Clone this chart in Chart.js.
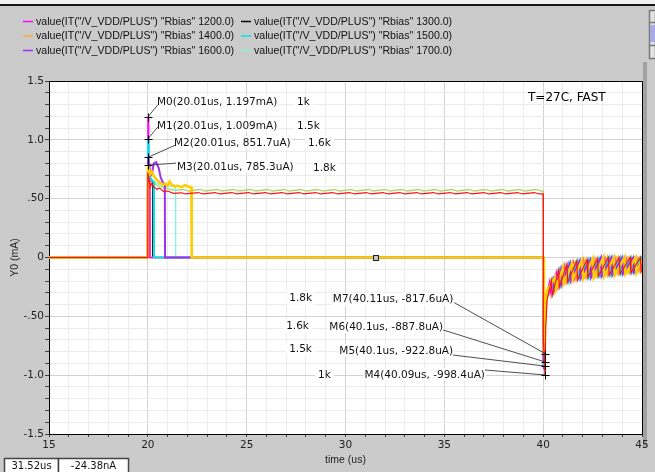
<!DOCTYPE html>
<html>
    <head>
        <meta charset="utf-8">
        <style>
            html, body { margin: 0; padding: 0; background: #cbcbcb; }
            canvas { display: block; }
        </style>
    </head>
    <body>

	<canvas id="myChart" width="655" height="472"></canvas>

        <script src="https://cdn.jsdelivr.net/npm/chart.js"></script>

        <script>
		// each series: [time (us), current (mA)]
		const rb1000 = [[15,0],[19.98,0],[20.0,0.72],[20.06,0.66],[20.12,0.6],[20.2,0.63],[20.3,0.6],[20.45,0.58],[20.6,0.59],[20.8,0.56],[21.0,0.565],[21.3,0.545],
			[21.7,0.55],[21.9,0.54],[22.55,0.552],[22.8,0.54],[23.4,0.552],[23.65,0.54],[24.25,0.552],[24.5,0.54],[25.1,0.552],[25.35,0.54],[25.95,0.552],[26.2,0.54],
			[26.8,0.552],[27.05,0.54],[27.65,0.552],[27.9,0.54],[28.5,0.552],[28.75,0.54],[29.35,0.552],[29.6,0.54],[30.2,0.552],[30.45,0.54],[31.05,0.552],[31.3,0.54],
			[31.9,0.552],[32.15,0.54],[32.75,0.552],[33.0,0.54],[33.6,0.552],[33.85,0.54],[34.45,0.552],[34.7,0.54],[35.3,0.552],[35.55,0.54],[36.15,0.552],[36.4,0.54],
			[37.0,0.552],[37.25,0.54],[37.85,0.552],[38.1,0.54],[38.7,0.552],[38.95,0.54],[39.55,0.552],[39.8,0.54],[40.0,0.54],
			[40.01,-0.7],[40.09,-0.998],[40.13,-0.6],[40.2,-0.36],[40.42,-0.2],[40.46,-0.32],[40.78,-0.11],[40.82,-0.25],[41.2,-0.06],[41.24,-0.21],[41.7,-0.03],[41.74,-0.19],
			[42.22,-0.02],[42.26,-0.17],[42.75,-0.01],[42.79,-0.16],[43.3,0],[43.34,-0.15],[43.85,0],[43.89,-0.14],[44.4,0],[44.44,-0.13],[44.92,0],[44.96,-0.12],[45,-0.1]];
		const rb1100 = [[15,0],[19.98,0],[20.01,0.7],[20.08,0.69],[20.2,0.65],[20.35,0.63],[20.5,0.61],[20.7,0.6],[20.9,0.59],[21.1,0.58],[21.4,0.57],
			[21.8,0.578],[22.05,0.565],[22.65,0.578],[22.9,0.565],[23.5,0.578],[23.75,0.565],[24.35,0.578],[24.6,0.565],[25.2,0.578],[25.45,0.565],[26.05,0.578],[26.3,0.565],
			[26.9,0.578],[27.15,0.565],[27.75,0.578],[28.0,0.565],[28.6,0.578],[28.85,0.565],[29.45,0.578],[29.7,0.565],[30.3,0.578],[30.55,0.565],[31.15,0.578],[31.4,0.565],
			[32.0,0.578],[32.25,0.565],[32.85,0.578],[33.1,0.565],[33.7,0.578],[33.95,0.565],[34.55,0.578],[34.8,0.565],[35.4,0.578],[35.65,0.565],[36.25,0.578],[36.5,0.565],
			[37.1,0.578],[37.35,0.565],[37.95,0.578],[38.2,0.565],[38.8,0.578],[39.05,0.565],[39.65,0.578],[39.9,0.565],[40.0,0.565],
			[40.01,-0.6],[40.05,-0.96],[40.1,-0.55],[40.17,-0.34],[40.36,-0.2],[40.4,-0.31],[40.7,-0.12],[40.74,-0.25],[41.1,-0.07],[41.14,-0.21],[41.6,-0.04],[41.64,-0.19],
			[42.1,-0.02],[42.14,-0.17],[42.62,-0.01],[42.66,-0.16],[43.15,0],[43.19,-0.15],[43.7,0],[43.74,-0.14],[44.25,0],[44.29,-0.13],[44.8,0],[44.84,-0.12],[45,-0.08]];
		const rb1200 = [[15,0],[19.99,0],[20.01,1.197],[20.04,0.95],[20.07,0.8],[20.1,0.72],[20.11,0],[40.0,0],
			[40.02,-0.95],[40.07,-0.5],[40.15,-0.33],[40.32,-0.21],[40.36,-0.3],[40.66,-0.13],[40.7,-0.26],[41.05,-0.07],[41.09,-0.21],[41.52,-0.04],[41.56,-0.19],
			[42.03,-0.02],[42.07,-0.17],[42.55,-0.01],[42.59,-0.16],[43.08,0],[43.12,-0.15],[43.62,0],[43.66,-0.14],[44.17,0],[44.21,-0.13],[44.72,0],[44.76,-0.12],[45,-0.06]];
		const rb1300 = [[15,0],[19.99,0],[20.02,0.8],[20.06,0.7],[20.15,0.66],[20.25,0.64],[20.26,0],[40.0,0],
			[40.02,-0.94],[40.08,-0.5],[40.16,-0.33],[40.5,-0.19],[40.54,-0.29],[40.86,-0.11],[40.9,-0.24],[41.3,-0.06],[41.34,-0.2],[41.78,-0.03],[41.82,-0.18],
			[42.3,-0.02],[42.34,-0.17],[42.85,-0.01],[42.89,-0.16],[43.4,0],[43.44,-0.15],[43.95,0],[43.99,-0.14],[44.5,0],[44.54,-0.13],[45,0]];
		const rb1400 = [[15,0],[19.99,0],[20.0,0.73],[20.05,0.68],[20.08,0.65],[20.1,0],[40.0,0],
			[40.02,-0.93],[40.08,-0.48],[40.16,-0.32],[40.4,-0.2],[40.44,-0.3],[40.74,-0.12],[40.78,-0.25],[41.15,-0.07],[41.19,-0.21],[41.65,-0.04],[41.69,-0.19],
			[42.16,-0.02],[42.2,-0.17],[42.7,-0.01],[42.74,-0.16],[43.24,0],[43.28,-0.15],[43.78,0],[43.82,-0.14],[44.33,0],[44.37,-0.13],[44.88,0],[44.92,-0.12],[45,-0.1]];
		const rb1500 = [[15,0],[19.99,0],[20.01,1.009],[20.04,0.82],[20.08,0.7],[20.15,0.67],[20.25,0.65],[20.3,0.64],[20.31,0],[40.0,0],
			[40.03,-0.923],[40.09,-0.47],[40.17,-0.31],[40.46,-0.19],[40.5,-0.3],[40.83,-0.11],[40.87,-0.24],[41.26,-0.06],[41.3,-0.2],[41.74,-0.03],[41.78,-0.18],
			[42.27,-0.02],[42.31,-0.17],[42.8,-0.01],[42.84,-0.16],[43.35,0],[43.39,-0.15],[43.9,0],[43.94,-0.14],[44.45,0],[44.49,-0.13],[44.98,0],[45,-0.05]];
		const rb1600 = [[15,0],[19.99,0],[20.01,0.8517],[20.08,0.74],[20.15,0.7],[20.22,0.72],[20.3,0.8],[20.42,0.81],[20.55,0.76],[20.65,0.68],[20.75,0.64],[20.86,0.62],[20.87,0],[40.0,0],
			[40.03,-0.888],[40.09,-0.45],[40.18,-0.3],[40.52,-0.18],[40.56,-0.28],[40.9,-0.1],[40.94,-0.23],[41.35,-0.05],[41.39,-0.2],[41.85,-0.03],[41.89,-0.18],
			[42.38,-0.02],[42.42,-0.17],[42.92,0],[42.96,-0.16],[43.46,0],[43.5,-0.15],[44.0,0],[44.04,-0.14],[44.56,0],[44.6,-0.13],[45,-0.03]];
		const rb1700 = [[15,0],[19.99,0],[20.02,0.8],[20.08,0.7],[20.2,0.66],[20.4,0.64],[20.6,0.62],[20.8,0.61],[21.0,0.6],[21.2,0.61],[21.4,0.6],[21.41,0],[40.0,0],
			[40.03,-0.85],[40.1,-0.43],[40.19,-0.3],[40.56,-0.18],[40.6,-0.28],[40.95,-0.1],[40.99,-0.23],[41.42,-0.05],[41.46,-0.2],[41.92,-0.03],[41.96,-0.18],
			[42.45,-0.01],[42.49,-0.17],[43.0,0],[43.04,-0.16],[43.52,0],[43.56,-0.15],[44.08,0],[44.12,-0.14],[44.62,0],[44.66,-0.13],[45,-0.04]];
		const rb1800 = [[15,0],[19.99,0],[20.01,0.7853],[20.06,0.74],[20.12,0.71],[20.2,0.73],[20.3,0.69],[20.45,0.66],[20.6,0.64],[20.75,0.62],[20.9,0.625],[21.0,0.61],
			[21.1,0.645],[21.2,0.62],[21.35,0.605],[21.5,0.61],[21.7,0.6],[21.9,0.615],[22.05,0.6],[22.2,0.6],[22.22,0],[40.0,0],
			[40.04,-0.818],[40.1,-0.4],[40.2,-0.28],[40.6,-0.17],[40.64,-0.27],[41.0,-0.09],[41.04,-0.22],[41.46,-0.05],[41.5,-0.19],[41.98,-0.02],[42.02,-0.18],
			[42.52,-0.01],[42.56,-0.17],[43.05,0],[43.09,-0.16],[43.58,0],[43.62,-0.15],[44.12,0],[44.16,-0.14],[44.68,0],[44.72,-0.13],[45,-0.02]];

		const legendRbias = [1200, 1300, 1400, 1500, 1600, 1700];

		const xMajorTicks = [15, 20, 25, 30, 35, 40, 45];
		const xTickLabels = ['15', '20', '25', '30', '35', '40', '45'];
		const yMajorTicks = [1.5, 1.0, 0.5, 0, -0.5, -1.0, -1.5];
		const yTickLabels = ['1.5', '1.0', '.50', '0', '-.50', '-1.0', '-1.5'];

		const markerTime = [20.01, 20.01, 20.01, 20.01, 40.09, 40.1, 40.1, 40.11];
		const markerValue = [1.197, 1.009, 0.8517, 0.7853, -0.9984, -0.9228, -0.8878, -0.8176];
		const markerText = ['M0(20.01us, 1.197mA)', 'M1(20.01us, 1.009mA)', 'M2(20.01us, 851.7uA)', 'M3(20.01us, 785.3uA)',
			'M4(40.09us, -998.4uA)', 'M5(40.1us, -922.8uA)', 'M6(40.1us, -887.8uA)', 'M7(40.11us, -817.6uA)'];
		const markerRbias = ['1k', '1.5k', '1.6k', '1.8k', '1k', '1.5k', '1.6k', '1.8k'];

		const cursorTime = 31.52;
		const cursorValue = -0.00002438;
		const cursorText = ['31.52us', '-24.38nA'];
		const cornerNote = 'T=27C, FAST';

		document.addEventListener("DOMContentLoaded", function () {
		init();
		});

		function rbiasLabel(r) {
			return 'value(IT("/V_VDD/PLUS") "Rbias" ' + r.toFixed(1) + ')';
		}

		function init(){

			// first entry is drawn on top
			const series = [
				{ r: 1000, pts: rb1000, color: '#ff1010', width: 1.2 },
				{ r: 1800, pts: rb1800, color: '#ffcc00', width: 2.5 },
				{ r: 1600, pts: rb1600, color: '#a030f0', width: 2 },
				{ r: 1500, pts: rb1500, color: '#00e4ee', width: 2 },
				{ r: 1200, pts: rb1200, color: '#ff00ff', width: 1.5 },
				{ r: 1400, pts: rb1400, color: '#ffa63c', width: 2 },
				{ r: 1300, pts: rb1300, color: '#000000', width: 1 },
				{ r: 1700, pts: rb1700, color: '#7ff5d8', width: 1.2 },
				{ r: 1100, pts: rb1100, color: '#b2d66e', width: 1.3 }
			];

			const markerLayout = [
				{ dx: 9, dy: -14, ex: 10, ey: -12, rx: 149, ry: -14, right: false },
				{ dx: 9, dy: -13, ex: 10, ey: -12, rx: 149, ry: -13, right: false },
				{ dx: 26, dy: -14, ex: 27, ey: -12, rx: 160, ry: -14, right: false },
				{ dx: 29, dy: 2, ex: 28, ey: -2, rx: 165, ry: 3, right: false },
				{ dx: -60, dy: 0, ex: -60, ey: -5, rx: -227, ry: 0, right: true },
				{ dx: -92, dy: -15, ex: -92, ey: -11, rx: -256, ry: -17, right: true },
				{ dx: -102, dy: -35, ex: -102, ey: -32, rx: -259, ry: -36, right: true },
				{ dx: -92, dy: -54, ex: -91, ey: -51, rx: -256, ry: -55, right: true }
			];

			const isMajor = (v, list) => list.some(m => Math.abs(v - m) < 1e-6);

			const extras = {
				id: 'extras',
				beforeDraw(chart) {
					const { ctx, chartArea: a, width, height } = chart;
					ctx.save();
					ctx.fillStyle = '#cbcbcb';
					ctx.fillRect(0, 0, width, height);
					ctx.fillStyle = '#f2f2f2';
					ctx.fillRect(0, 0, width, 4);
					ctx.fillStyle = '#151515';
					ctx.fillRect(0, 4, width, 2);
					// darker edge of the plot panel
					ctx.fillStyle = '#a2a2a2';
					ctx.fillRect(a.right + 1, 62, 4, 385);
					ctx.fillStyle = '#ffffff';
					ctx.fillRect(a.left, a.top, a.right - a.left, a.bottom - a.top);
					ctx.restore();
				},
				afterDatasetsDraw(chart) {
					const { ctx } = chart;
					const x = chart.scales.x, y = chart.scales.y;
					ctx.save();

					const cx = x.getPixelForValue(cursorTime), cy = y.getPixelForValue(cursorValue);
					ctx.fillStyle = '#c4c4c4';
					ctx.strokeStyle = '#222';
					ctx.lineWidth = 1;
					ctx.fillRect(Math.round(cx) - 2.5, Math.round(cy) - 2.5, 5, 5);
					ctx.strokeRect(Math.round(cx) - 2.5, Math.round(cy) - 2.5, 5, 5);

					ctx.font = '10.5px "DejaVu Sans"';
					ctx.textBaseline = 'middle';
					ctx.textAlign = 'left';
					const pos = markerTime.map((t, i) => [x.getPixelForValue(t), y.getPixelForValue(markerValue[i])]);

					pos.forEach(([px, py], i) => {
						const L = markerLayout[i];
						const w = ctx.measureText(markerText[i]).width;
						const left = L.right ? px + L.dx - w : px + L.dx;
						const ty = py + L.dy;
						ctx.fillStyle = '#ffffff';
						ctx.fillRect(left - 1, ty - 7, w + 2, 13);
						ctx.fillStyle = '#111';
						ctx.fillText(markerText[i], left, ty);
						const rw = ctx.measureText(markerRbias[i]).width;
						ctx.fillStyle = '#ffffff';
						ctx.fillRect(px + L.rx - 3, py + L.ry - 7, rw + 6, 13);
						ctx.fillStyle = '#111';
						ctx.fillText(markerRbias[i], px + L.rx, py + L.ry);
					});

					ctx.strokeStyle = '#222';
					ctx.lineWidth = 0.8;
					pos.forEach(([px, py], i) => {
						const L = markerLayout[i];
						ctx.beginPath();
						ctx.moveTo(px, py);
						ctx.lineTo(px + L.ex, py + L.ey);
						ctx.stroke();
					});

					ctx.strokeStyle = '#000';
					ctx.lineWidth = 1;
					pos.forEach(([px, py]) => {
						const rx = Math.round(px) + 0.5, ry = Math.round(py) + 0.5;
						ctx.beginPath();
						ctx.moveTo(rx - 4, ry); ctx.lineTo(rx + 4, ry);
						ctx.moveTo(rx, ry - 4); ctx.lineTo(rx, ry + 4);
						ctx.stroke();
					});
					ctx.restore();
				},
				afterDraw(chart) {
					const { ctx, chartArea: a } = chart;
					ctx.save();

					ctx.strokeStyle = '#000';
					ctx.lineWidth = 1;
					ctx.beginPath();
					ctx.moveTo(a.left, a.top + 0.5);
					ctx.lineTo(a.right + 0.5, a.top + 0.5);
					ctx.lineTo(a.right + 0.5, a.bottom);
					ctx.stroke();

					ctx.font = '12px "DejaVu Sans"';
					ctx.fillStyle = '#000';
					ctx.textBaseline = 'middle';
					ctx.textAlign = 'left';
					ctx.fillText(cornerNote, a.right - 114, a.top + 17);

					// legend, two columns
					ctx.font = '10.6px "Liberation Sans"';
					legendRbias.forEach((r, i) => {
						const ds = chart.data.datasets.find(d => d.label === rbiasLabel(r));
						const lx = i % 2 === 0 ? 23 : 241;
						const ly = 21 + 14.5 * Math.floor(i / 2);
						ctx.strokeStyle = ds.borderColor;
						ctx.lineWidth = 1.5;
						ctx.beginPath();
						ctx.moveTo(lx, ly + 0.5);
						ctx.lineTo(lx + 10, ly + 0.5);
						ctx.stroke();
						ctx.fillStyle = '#111';
						ctx.fillText(ds.label, lx + 13, ly + 1);
					});

					// scroll bar of the legend
					ctx.fillStyle = '#e2e2e2';
					ctx.fillRect(649, 10, 6, 48);
					ctx.strokeStyle = '#7a7a7a';
					ctx.strokeRect(649.5, 10.5, 6, 48);
					ctx.beginPath();
					ctx.moveTo(649.5, 22.5); ctx.lineTo(655, 22.5);
					ctx.moveTo(649.5, 45.5); ctx.lineTo(655, 45.5);
					ctx.stroke();
					ctx.fillStyle = '#a9a9e6';
					ctx.fillRect(650, 25, 5, 17);

					// cursor readout
					ctx.font = '10px "DejaVu Sans"';
					ctx.textAlign = 'center';
					ctx.strokeStyle = '#444';
					[[4.5, 54], [58.5, 70]].forEach(([bx, bw], i) => {
						ctx.fillStyle = '#ffffff';
						ctx.fillRect(bx, 458.5, bw, 15);
						ctx.strokeRect(bx, 458.5, bw, 15);
						ctx.fillStyle = '#111';
						ctx.fillText(cursorText[i], bx + bw / 2, 466);
					});
					ctx.restore();
				}
			};

			const mydashchart = new Chart(document.getElementById('myChart'), {
				type: 'line',
				data: {
					datasets: series.map(s => ({
						label: rbiasLabel(s.r),
						data: s.pts.map(p => ({ x: p[0], y: p[1] })),
						borderColor: s.color,
						borderWidth: s.width,
						pointRadius: 0,
						tension: 0,
						fill: false
					}))
				},
				options: {
					responsive: false,
					animation: false,
					devicePixelRatio: 1,
					events: [],
					layout: { padding: { top: 81, right: 13, left: 0, bottom: 0 } },
					plugins: { legend: { display: false }, tooltip: { enabled: false } },
					scales: {
						x: {
							type: 'linear',
							min: 15,
							max: 45,
							afterBuildTicks: scale => {
								const t = [];
								for (let v = 15; v <= 45; v++) t.push({ value: v });
								scale.ticks = t;
							},
							afterFit: scale => { scale.height = 38; },
							ticks: {
								autoSkip: false,
								maxRotation: 0,
								padding: 2,
								color: '#222',
								font: { family: 'DejaVu Sans', size: 10.5 },
								callback: v => {
									const i = xMajorTicks.findIndex(m => Math.abs(v - m) < 1e-6);
									return i >= 0 ? xTickLabels[i] : '';
								}
							},
							grid: {
								color: c => isMajor(c.tick.value, xMajorTicks) ? '#d2d2d2' : '#ececec',
								tickColor: '#444',
								tickLength: 3
							},
							border: { color: '#000', width: 1 },
							title: {
								display: true,
								text: 'time (us)',
								color: '#222',
								font: { family: 'Liberation Sans', size: 10.5 },
								padding: { top: 0, bottom: 6 }
							}
						},
						y: {
							min: -1.5,
							max: 1.5,
							afterBuildTicks: scale => {
								const t = [];
								for (let k = -15; k <= 15; k++) t.push({ value: k / 10 });
								scale.ticks = t;
							},
							afterFit: scale => { scale.width = 49; },
							ticks: {
								autoSkip: false,
								padding: 1,
								color: '#222',
								font: { family: 'DejaVu Sans', size: 10.5 },
								callback: v => {
									const i = yMajorTicks.findIndex(m => Math.abs(v - m) < 1e-6);
									return i >= 0 ? yTickLabels[i] : '';
								}
							},
							grid: {
								color: c => isMajor(c.tick.value, yMajorTicks) ? '#d2d2d2' : '#ececec',
								tickColor: '#444',
								tickLength: 4
							},
							border: { color: '#000', width: 1 },
							title: {
								display: true,
								text: 'Y0 (mA)',
								color: '#222',
								font: { family: 'Liberation Sans', size: 10.5 },
								padding: { top: 9, bottom: 0 }
							}
						}
					}
				},
				plugins: [extras]
			});
		}

        </script>
    </body>
</html>
